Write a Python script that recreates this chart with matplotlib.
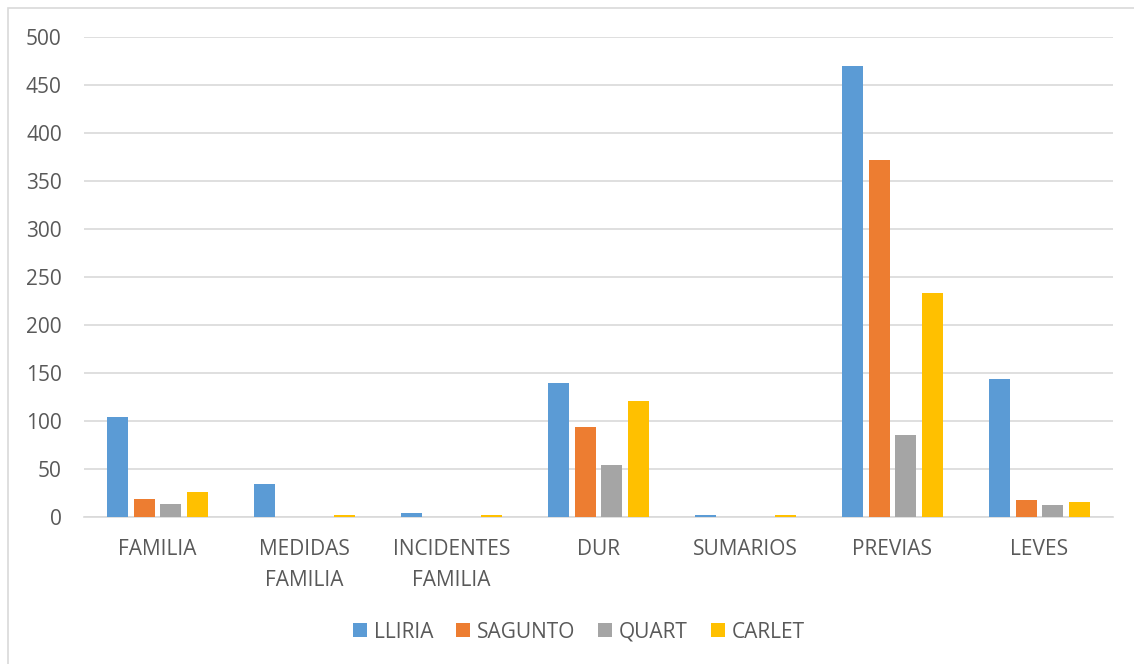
import numpy as np
import matplotlib.pyplot as plt
from matplotlib.patches import Rectangle

categories = ["FAMILIA", "MEDIDAS\nFAMILIA", "INCIDENTES\nFAMILIA", "DUR",
              "SUMARIOS", "PREVIAS", "LEVES"]
series_names = ["LLIRIA", "SAGUNTO", "QUART", "CARLET"]
lliria = [104, 34, 4, 140, 2, 470, 144]
sagunto = [19, 0, 0, 94, 0.5, 372, 18]
quart = [14, 0, 0, 54, 0, 85, 12]
carlet = [26, 2, 2, 121, 2, 233, 16]

colors = ["#5b9bd5", "#ed7d31", "#a5a5a5", "#ffc000"]
text_color = "#595959"

plt.rcParams['font.family'] = ['Open Sans', 'DejaVu Sans']

fig = plt.figure(figsize=(11.34, 6.64), dpi=100)
ax = fig.add_axes([84 / 1134, 1 - 517 / 664, (1113 - 84) / 1134, (517 - 37) / 664])

x = np.arange(len(categories))
step = 0.18
width = 0.143
for i, (name, vals) in enumerate(zip(series_names, [lliria, sagunto, quart, carlet])):
    ax.bar(x + (i - 1.5) * step, vals, width, color=colors[i], label=name, zorder=3)

ax.set_xlim(-0.5, len(categories) - 0.5)
ax.set_ylim(0, 500)
ax.set_yticks(np.arange(0, 501, 50))
ax.set_xticks(x)
ax.set_xticklabels(categories, fontsize=15, color=text_color, linespacing=1.62)
ax.tick_params(axis='y', labelsize=15, labelcolor=text_color, length=0, pad=16)
ax.tick_params(axis='x', length=0, pad=16)
for lab in ax.get_xticklabels():
    lab.set_verticalalignment('top')

ax.grid(axis='y', color="#d9d9d9", linewidth=1.2, zorder=0)
for side in ["top", "right", "left"]:
    ax.spines[side].set_visible(False)
ax.spines["bottom"].set_color("#d9d9d9")
ax.spines["bottom"].set_linewidth(1.2)

fig.legend(loc="center", bbox_to_anchor=(579 / 1134, 1 - 632 / 664), ncol=4, frameon=False,
           fontsize=15, handlelength=0.65, handleheight=0.65, handletextpad=0.35,
           columnspacing=1.1, labelcolor=text_color)

fig.patches.append(Rectangle((8 / 1134, -0.01), 1.02, 1 - 8 / 664 + 0.01,
                             transform=fig.transFigure, fill=False,
                             edgecolor="#d9d9d9", linewidth=1.2))

fig.savefig("out.png", dpi=100)
